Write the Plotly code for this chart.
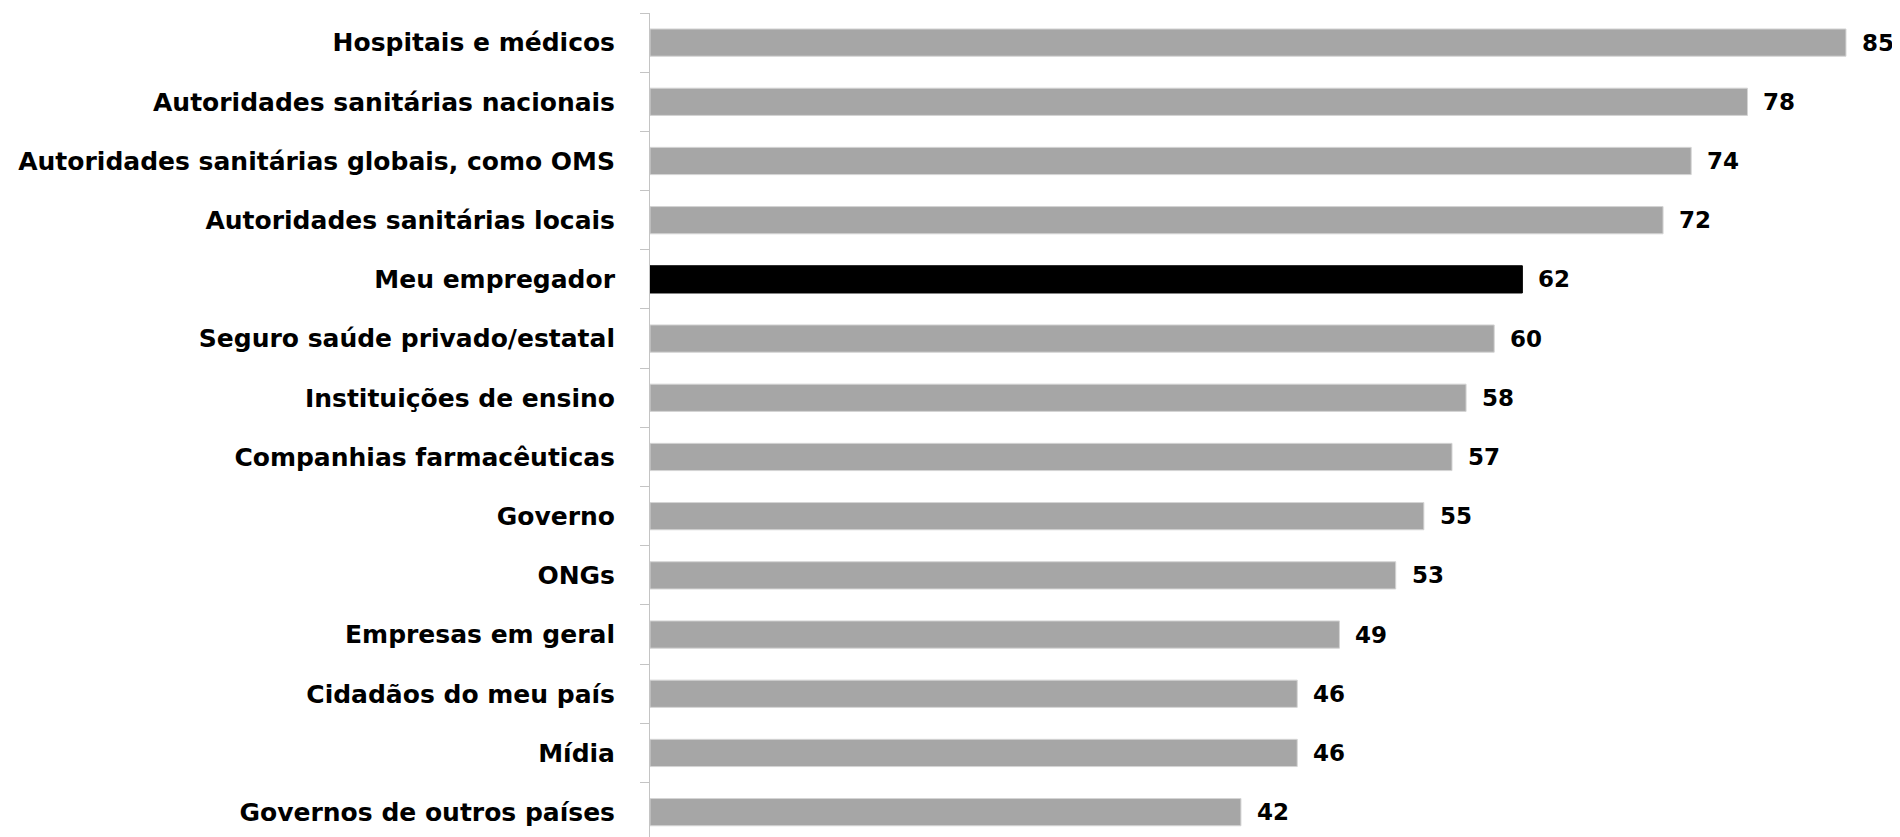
import plotly.graph_objects as go

categories = [
    "Hospitais e médicos",
    "Autoridades sanitárias nacionais",
    "Autoridades sanitárias globais, como OMS",
    "Autoridades sanitárias locais",
    "Meu empregador",
    "Seguro saúde privado/estatal",
    "Instituições de ensino",
    "Companhias farmacêuticas",
    "Governo",
    "ONGs",
    "Empresas em geral",
    "Cidadãos do meu país",
    "Mídia",
    "Governos de outros países",
]
values = [85, 78, 74, 72, 62, 60, 58, 57, 55, 53, 49, 46, 46, 42]
highlight = "Meu empregador"

bar_colors = ["#000000" if c == highlight else "#a6a6a6" for c in categories]
line_colors = ["#000000" if c == highlight else "#d4d4d4" for c in categories]

FONT = "DejaVu Sans, Liberation Sans, Arial, sans-serif"

fig = go.Figure()
fig.add_trace(go.Bar(
    x=values,
    y=categories,
    orientation="h",
    marker=dict(color=bar_colors, line=dict(color=line_colors, width=1)),
    width=0.46,
    hoverinfo="skip",
))

for c, v in zip(categories, values):
    fig.add_annotation(
        x=v, y=c, text=f"<b>{v}</b>", showarrow=False,
        xanchor="left", yanchor="middle", xshift=14,
        font=dict(family=FONT, size=23, color="#000000"),
    )

fig.update_layout(
    width=1892, height=829,
    margin=dict(l=642, r=0, t=5, b=0),
    paper_bgcolor="white", plot_bgcolor="white",
    showlegend=False,
    font=dict(family=FONT, size=25, color="#000000"),
)
fig.update_xaxes(
    range=[0, 88.84], visible=False, showgrid=False, zeroline=False,
)
fig.update_yaxes(
    type="category",
    range=[13.42, -0.5],
    showline=True, linecolor="#c4c4c4", linewidth=1,
    ticks="outside", tickson="boundaries", ticklen=9, tickcolor="#c4c4c4", tickwidth=1,
    showgrid=False, zeroline=False,
    tickfont=dict(family=FONT, size=25, color="#000000", weight="bold"),
    ticklabelstandoff=29,
)

fig.write_html("out.html")
